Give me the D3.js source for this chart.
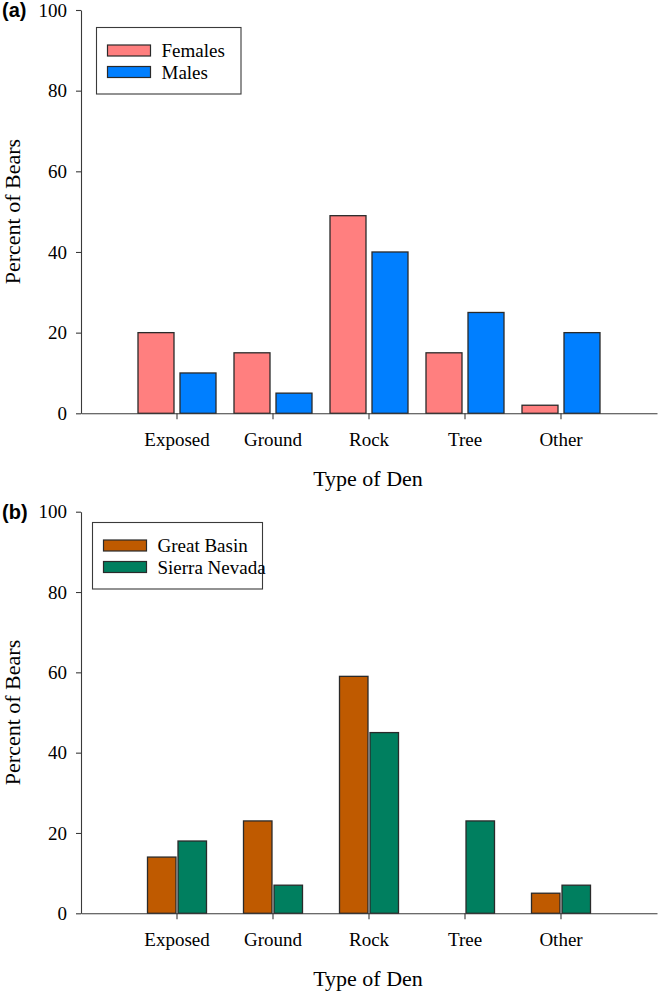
<!DOCTYPE html>
<html>
<head>
<meta charset="utf-8">
<script src="https://cdn.jsdelivr.net/npm/d3@7"></script>
<style>
  html, body { margin: 0; padding: 0; background: #fff; }
  svg { display: block; }
  text { font-family: "Liberation Serif", "Times New Roman", "DejaVu Serif", serif; fill: #000; }
</style>
</head>
<body>
<svg id="chart" width="661" height="993"></svg>
<script>
// ---- Data ----
const categories = ["Exposed", "Ground", "Rock", "Tree", "Other"];
const yTicks = [0, 20, 40, 60, 80, 100];

// Panel (a)
const seriesA = ["Females", "Males"];
const femalesPct = [20, 15, 49, 15, 2];
const malesPct = [10, 5, 40, 25, 20];
const colorsA = ["#FF7F7F", "#007FFF"];

// Panel (b)
const seriesB = ["Great Basin", "Sierra Nevada"];
const greatBasinPct = [14, 23, 59, 0, 5];
const sierraNevadaPct = [18, 7, 45, 23, 7];
const colorsB = ["#BF5A00", "#007F5F"];

const xTitle = "Type of Den";
const yTitle = "Percent of Bears";

// ---- Drawing ----
const SERIF = "'Liberation Serif', 'Times New Roman', 'DejaVu Serif', serif";
const svg = d3.select("#chart");
const left = 81, right = 657;

function drawPanel(cfg) {
  const g = svg.append("g");
  const y = d3.scaleLinear().domain([0, 100]).range([cfg.bottom, cfg.top]);
  const x = d3.scaleBand().domain(categories).range([left, right])
    .paddingInner(0).paddingOuter(0.5);
  const xs = d3.scaleBand().domain(cfg.series).range(cfg.subRange).paddingInner(cfg.subPad);

  const rows = categories.map((c, i) => ({ cat: c, vals: cfg.values.map(v => v[i]) }));

  // bars
  const grp = g.append("g").selectAll("g").data(rows).join("g")
    .attr("transform", d => `translate(${x(d.cat) + x.bandwidth() / 2},0)`);
  grp.selectAll("rect")
    .data(d => d.vals.map((v, k) => ({ s: cfg.series[k], v, k })).filter(e => e.v > 0))
    .join("rect")
    .attr("x", d => xs(d.s))
    .attr("width", xs.bandwidth())
    .attr("y", d => y(d.v))
    .attr("height", d => y(0) - y(d.v))
    .attr("fill", d => cfg.colors[d.k])
    .attr("stroke", "#2a2a2a")
    .attr("stroke-width", 1.3);

  // y axis
  const ya = g.append("g").attr("transform", `translate(${left},0)`)
    .call(d3.axisLeft(y).tickValues(yTicks).tickSize(5).tickPadding(9).tickSizeOuter(0));
  ya.attr("font-family", SERIF).attr("font-size", 19);
  ya.selectAll("text").attr("font-family", SERIF).style("font-family", SERIF).style("font-size", "19px");
  ya.select(".domain").attr("stroke", "#3a3a3a").attr("stroke-width", 1.1);
  ya.selectAll(".tick line").attr("stroke", "#3a3a3a").attr("stroke-width", 1.1);

  // x axis
  const xa = g.append("g").attr("transform", `translate(0,${cfg.bottom})`)
    .call(d3.axisBottom(x).tickSize(6).tickPadding(13).tickSizeOuter(0));
  xa.attr("font-family", SERIF).attr("font-size", 19);
  xa.selectAll("text").attr("font-family", SERIF).style("font-family", SERIF).style("font-size", "19px");
  xa.select(".domain").attr("stroke", "#3a3a3a").attr("stroke-width", 1.1);
  xa.selectAll(".tick line").attr("stroke", "#3a3a3a").attr("stroke-width", 1.1);

  // axis titles
  g.append("text")
    .attr("x", (left + right) / 2 - 1)
    .attr("y", cfg.bottom + 73)
    .attr("text-anchor", "middle")
    .style("font-family", SERIF)
    .style("font-size", "22px")
    .text(xTitle);
  g.append("text")
    .attr("transform", `translate(20,${(cfg.top + cfg.bottom) / 2}) rotate(-90)`)
    .attr("text-anchor", "middle")
    .style("font-family", SERIF)
    .style("font-size", "22px")
    .text(yTitle);

  // panel letter
  g.append("text")
    .attr("x", 2)
    .attr("y", cfg.top + 7)
    .style("font-family", "'Liberation Sans', Arial, sans-serif")
    .style("font-weight", "bold")
    .style("font-size", "20px")
    .text(cfg.letter);

  // legend
  const lg = g.append("g");
  lg.append("rect")
    .attr("x", cfg.legend.x).attr("y", cfg.legend.y)
    .attr("width", cfg.legend.w).attr("height", cfg.legend.h)
    .attr("fill", "#fff").attr("stroke", "#3a3a3a").attr("stroke-width", 1.1);
  const items = lg.selectAll("g.item").data(cfg.series).join("g").attr("class", "item")
    .attr("transform", (d, i) => `translate(${cfg.legend.x + 11},${cfg.legend.y + 23 + i * 21.5})`);
  items.append("rect")
    .attr("x", 0).attr("y", -5.5).attr("width", 43).attr("height", 11)
    .attr("fill", (d, i) => cfg.colors[i])
    .attr("stroke", "#2a2a2a").attr("stroke-width", 1.2);
  items.append("text")
    .attr("x", 54).attr("y", 0).attr("dy", "0.35em")
    .style("font-family", SERIF)
    .style("font-size", "19px")
    .text(d => d);
}

drawPanel({
  letter: "(a)", top: 10, bottom: 413.3,
  series: seriesA, values: [femalesPct, malesPct], colors: colorsA,
  subRange: [-39, 39], subPad: 0.143,
  legend: { x: 96.5, y: 27.5, w: 144.5, h: 66.5 }
});

drawPanel({
  letter: "(b)", top: 511.7, bottom: 913.3,
  series: seriesB, values: [greatBasinPct, sierraNevadaPct], colors: colorsB,
  subRange: [-29.5, 29.5], subPad: 0.066,
  legend: { x: 92.5, y: 522.5, w: 170, h: 66.5 }
});
</script>
</body>
</html>
